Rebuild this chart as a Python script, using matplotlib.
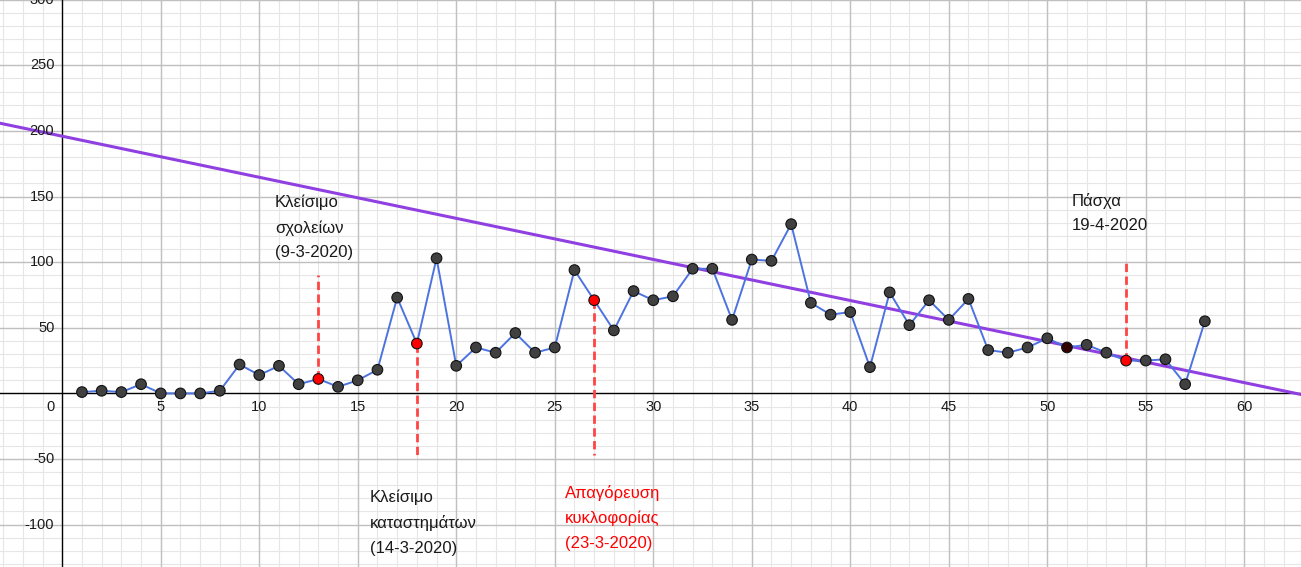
import numpy as np
import matplotlib.pyplot as plt

plt.rcParams['font.family'] = ['Liberation Sans', 'DejaVu Sans']

# daily cases
days = np.arange(1, 59)
cases = [1, 2, 1, 7, 0, 0, 0, 2, 22, 14, 21, 7, 11, 5, 10, 18, 73, 38, 103,
         21, 35, 31, 46, 31, 35, 94, 71, 48, 78, 71, 74, 95, 95, 56, 102, 101,
         129, 69, 60, 62, 20, 77, 52, 71, 56, 72, 33, 31, 35, 42, 35, 37, 31,
         25, 25, 26, 7, 55]
red_days = [13, 18, 27, 54]
dark_day = 51

# trend line y = a + b*x
trend_a = 196.0
trend_b = -3.13

# event markers: day, dashed line from / to
event_x = [13, 18, 27, 54]
event_y0 = [11, 38, 71, 25]
event_y1 = [90, -50, -47, 100]

labels = ['Κλείσιμο\nσχολείων\n(9-3-2020)',
          'Κλείσιμο\nκαταστημάτων\n(14-3-2020)',
          'Απαγόρευση\nκυκλοφορίας\n(23-3-2020)',
          'Πάσχα\n19-4-2020']
label_x = [10.8, 15.6, 25.5, 51.25]
label_y = [151.5, -73, -69.5, 153]
label_col = ['#1a1a1a', '#1a1a1a', '#ff0000', '#1a1a1a']

xmin, xmax = -3.16, 62.88
ymin, ymax = -132.3, 299.8

fig = plt.figure(figsize=(13.01, 5.67), dpi=100)
ax = fig.add_axes([0, 0, 1, 1])
ax.set_xlim(xmin, xmax)
ax.set_ylim(ymin, ymax)
for s in ax.spines.values():
    s.set_visible(False)
ax.set_xticks([])
ax.set_yticks([])

# grid
for x in np.arange(-3, 63, 1):
    ax.axvline(x, color='#e6e6e6', lw=0.8, zorder=0)
for y in np.arange(-130, 301, 10):
    ax.axhline(y, color='#e6e6e6', lw=0.8, zorder=0)
for x in np.arange(5, 63, 5):
    ax.axvline(x, color='#c0c0c0', lw=1.0, zorder=0)
for y in np.arange(-100, 301, 50):
    if y != 0:
        ax.axhline(y, color='#c0c0c0', lw=1.0, zorder=0)
ax.axhline(0, color='black', lw=1.0, zorder=1)
ax.axvline(0, color='black', lw=1.0, zorder=1)

# tick labels
for x in np.arange(5, 63, 5):
    ax.text(x, -5, str(x), ha='center', va='top', fontsize=10.5, color='#1a1a1a')
for y in np.arange(-100, 301, 50):
    if y != 0:
        ax.text(-0.4, y, str(y), ha='right', va='center', fontsize=10.5, color='#1a1a1a')
ax.text(-0.4, -5, '0', ha='right', va='top', fontsize=10.5, color='#1a1a1a')

# trend line
tx = np.array([xmin, xmax])
ax.plot(tx, trend_a + trend_b * tx, color='#9040e0', lw=2.2, zorder=2)

# dashed event lines
for x, y0, y1 in zip(event_x, event_y0, event_y1):
    ax.plot([x, x], [y0, y1], color='#ff4444', lw=2.0, ls=(0, (3, 1.6)), zorder=2)

# series
ax.plot(days, cases, color='#4d73e0', lw=1.4, zorder=3)
cols = []
for d in days:
    if d in red_days:
        cols.append('#ff0000')
    elif d == dark_day:
        cols.append('#330000')
    else:
        cols.append('#404040')
ax.scatter(days, cases, s=58, c=cols, edgecolors='#111111', linewidths=0.8, zorder=4)

for t, x, y, c in zip(labels, label_x, label_y, label_col):
    ax.text(x, y, t, ha='left', va='top', fontsize=12, color=c, linespacing=1.8)

fig.savefig('out.png', dpi=100)
